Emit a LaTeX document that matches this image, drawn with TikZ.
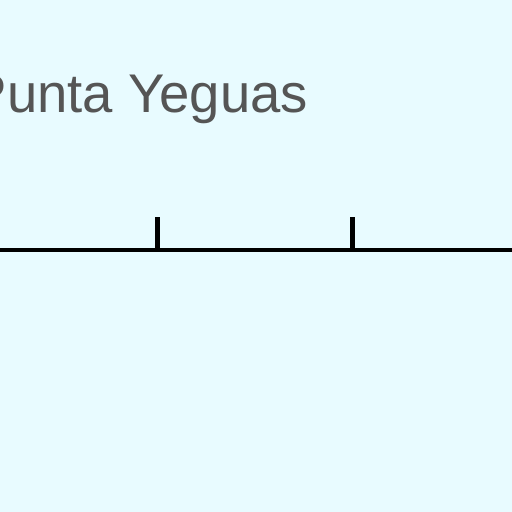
\documentclass[tikz,border=0pt]{standalone}
\usepackage{fontspec}
\setmainfont{Liberation Sans}
\definecolor{fondo}{RGB}{232,251,255}
\definecolor{gristexto}{RGB}{85,85,85}
\begin{document}
\begin{tikzpicture}[x=1cm, y=1cm]
        % Fondo
        \fill[fondo] (0, 0) rectangle (5.12, 5.12);
        \clip (0, 0) rectangle (5.12, 5.12);
        \useasboundingbox (0, 0) rectangle (5.12, 5.12);
        
        % Nombre del lugar
        \node[anchor=base west, inner sep=0pt, text=gristexto, font=\fontsize{15.5}{18}\selectfont] (punta) at (-0.30, 3.99) {Punta Yeguas};
        
        % Linea de la escala
        \coordinate (izq) at (-0.1, 2.62);
        \coordinate (der) at (5.22, 2.62);
        \draw[line width=0.042cm, black] (izq) -- (der);
        
        % Marcas
        \foreach \x in {1.575, 3.525}
            \draw[line width=0.042cm, black] (\x, 2.62) -- (\x, 2.95);
    \end{tikzpicture}
\end{document}
